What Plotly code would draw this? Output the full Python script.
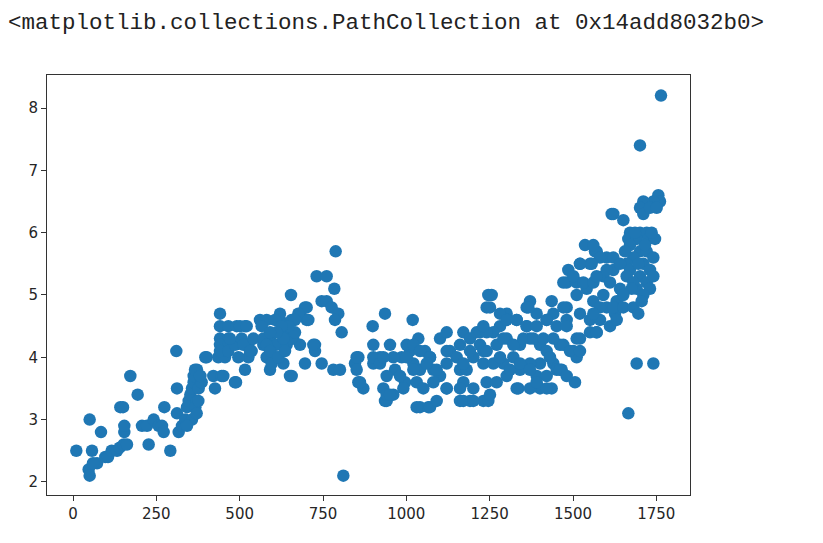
import plotly.graph_objects as go

# Scatter data
x_left = [10, 50, 57, 84, 47, 50, 72, 60, 97, 105, 116, 132, 140, 152, 162, 154, 154, 142, 150, 172, 194,
          207, 222, 242, 257, 267, 272, 227, 274, 292, 310, 312, 312, 317, 327, 337, 342, 347, 352, 357,
          362, 362, 372, 382, 377, 372, 367, 357, 342, 397]
y_left = [2.5, 3.0, 2.5, 2.8, 2.2, 2.1, 2.3, 2.3, 2.4, 2.4, 2.5, 2.5, 2.55, 2.6, 2.6, 2.8, 2.9, 3.2, 3.2, 3.7, 3.4,
          2.9, 2.9, 3.0, 2.9, 2.9, 2.8, 2.6, 3.2, 2.5, 4.1, 3.5, 3.1, 2.8, 2.9, 3.0, 3.2, 3.3, 3.4, 3.5,
          3.6, 3.7, 3.8, 3.7, 3.5, 3.3, 3.2, 3.0, 2.9, 4.0]

x_midleft = [366, 386, 421, 446, 426, 376, 371, 401, 436, 456, 489, 381, 451, 486, 516,
             441, 441, 466, 491, 516, 441, 466, 441, 466, 441, 466, 486, 506, 526, 536, 526, 496, 471, 501,
             511, 531, 561, 581, 591, 571, 581, 591, 611, 631, 621, 641, 656, 661, 681, 681, 701, 701, 631,
             611, 541, 521, 696, 676, 666, 706, 621, 606, 566, 571, 581, 591, 596, 616, 636, 656, 666, 646,
             631, 626, 611, 591, 656, 696, 726, 726, 746, 781, 654, 788, 731, 761, 784, 746, 761, 776, 796,
             786, 806, 801, 811, 651, 721]
y_midleft = [3.8, 3.6, 3.7, 3.7, 3.5, 3.3, 3.1, 4.0, 4.0, 4.0, 3.6, 3.7, 3.7, 3.6, 3.8,
             4.7, 4.5, 4.5, 4.5, 4.5, 4.3, 4.3, 4.2, 4.2, 4.1, 4.1, 4.2, 4.3, 4.2, 4.1, 4.0, 4.0, 4.3, 4.5,
             4.2, 4.1, 4.6, 4.6, 4.3, 4.2, 4.0, 3.8, 4.2, 4.4, 4.6, 4.2, 4.6, 4.3, 4.7, 4.2, 4.8, 4.6, 3.9,
             4.0, 4.3, 4.5, 4.8, 4.7, 4.6, 4.6, 4.7, 4.6, 4.5, 4.3, 4.2, 4.1, 3.9, 4.0, 4.1, 4.3, 4.4, 4.5,
             4.3, 4.5, 4.4, 4.4, 3.7, 3.9, 4.2, 4.1, 3.9, 3.8, 5.0, 5.7, 5.3, 5.3, 5.1, 4.9, 4.9, 4.8, 4.7,
             4.6, 4.4, 3.8, 2.1, 3.7, 4.2]

x_mid = [936, 899, 1019, 901, 951, 856, 846, 856, 871, 901, 921, 931, 936, 961, 966, 986, 996, 1011,
         1036, 1056, 1071, 1041, 1031, 1051, 1041, 1066, 1081, 1101, 1121, 1101, 1121, 1131, 1151, 1161,
         1171, 1191, 1211, 1221, 1201, 1181, 1171, 1161, 1191, 1231, 1241, 1231, 1246, 1241,
         851, 851, 861, 901, 921, 941, 961, 981, 1001, 1021, 1031,
         1021, 931, 1001, 1041, 1071, 1121, 1161, 1191, 1231, 1171, 1121, 1091, 1061, 1021, 941, 941,
         991, 1081, 1121, 1161, 1201, 1171, 1201, 1071, 1091, 951, 1221]
y_mid = [4.7, 4.5, 4.6, 4.2, 4.2, 4.0, 3.9, 3.6, 3.5, 3.9, 4.0, 3.5, 3.3, 3.4, 3.8, 4.0, 3.6, 4.1,
         4.3, 4.1, 4.0, 3.8, 3.6, 3.5, 3.2, 3.2, 3.8, 3.7, 3.5, 4.3, 4.4, 4.1, 4.0, 3.8,
         4.4, 4.3, 4.4, 4.2, 4.0, 3.8, 3.6, 3.3, 3.3, 3.9, 3.6, 3.3, 5.0, 4.8,
         4.0, 3.8, 3.6, 4.0, 3.9, 3.3, 4.0, 3.7, 4.2, 3.9, 3.2,
         4.2, 4.0, 4.0, 4.1, 4.0, 4.1, 4.2, 4.1, 4.1, 3.9, 3.9, 3.8, 3.9, 3.8, 3.7, 3.4,
         3.5, 3.6, 3.5, 3.5, 3.5, 3.3, 3.3, 3.2, 3.3, 3.4, 4.4]

x_right = [1256, 1371, 1361, 1436, 1536, 1566, 1486, 1521, 1551, 1481, 1511, 1511, 1541, 1561, 1481,
           1521, 1551, 1511, 1481, 1441, 1421, 1391, 1361, 1331, 1301, 1281, 1261, 1241, 1271, 1301, 1341,
           1371, 1401, 1421, 1461, 1501, 1511, 1466, 1441, 1401, 1371, 1341, 1321, 1291, 1261, 1271, 1301,
           1391, 1421, 1451, 1506, 1336, 1401, 1436, 1371, 1246,
           1616, 1571, 1601, 1521, 1471, 1501, 1531, 1561, 1591, 1621, 1251, 1366, 1471, 1601, 1631, 1581,
           1611, 1626, 1571, 1521, 1281, 1301, 1331, 1361, 1391, 1421, 1451, 1481, 1551, 1231, 1291, 1321,
           1351, 1381, 1411, 1441, 1471, 1491, 1521, 1241, 1281, 1311, 1341, 1371, 1431, 1461, 1481, 1391,
           1331, 1421, 1251]
y_right = [5.0, 4.9, 4.8, 4.9, 5.8, 5.7, 5.4, 5.5, 5.5, 5.2, 5.2, 5.0, 5.1, 4.9, 4.8,
           4.7, 4.6, 4.3, 4.6, 4.7, 4.6, 4.7, 4.5, 4.6, 4.7, 4.5, 4.4, 4.4, 4.2, 4.3, 4.2,
           4.3, 4.2, 4.1, 4.2, 4.1, 4.0, 3.8, 3.9, 3.9, 3.9, 3.8, 4.0, 3.9, 3.9, 3.6, 3.7,
           3.7, 3.7, 3.8, 3.6, 3.5, 3.5, 3.5, 3.5, 3.3,
           6.3, 5.7, 5.6, 5.5, 5.2, 5.3, 5.2, 5.2, 5.3, 5.4, 4.8, 4.8, 4.8, 4.8, 4.9, 4.6,
           4.5, 4.7, 4.4, 4.3, 4.7, 4.6, 4.6, 4.5, 4.5, 4.6, 4.5, 4.5, 4.4, 4.5, 4.3, 4.2,
           4.3, 4.3, 4.3, 4.3, 4.2, 4.1, 4.1, 4.1, 4.0, 3.8, 3.9, 3.8, 4.0, 3.8, 3.7, 3.6,
           3.5, 3.5, 3.4]

x_far = [1764, 1701, 1756, 1761, 1741, 1711, 1701, 1711, 1731, 1751, 1621, 1651, 1671, 1701, 1721, 1666,
         1691, 1726, 1671, 1701, 1721, 1681, 1711, 1661, 1731, 1701, 1671, 1721, 1691, 1661, 1731, 1561,
         1581, 1556, 1571, 1601, 1621, 1641, 1611, 1641, 1591, 1621, 1581, 1561, 1651, 1681, 1696, 1631,
         1571, 1691, 1741, 1666, 1681, 1711, 1741, 1741, 1746, 1736, 1686, 1656, 1716, 1696, 1676, 1706,
         1651]
y_far = [8.2, 7.4, 6.6, 6.5, 6.5, 6.5, 6.4, 6.3, 6.4, 6.4, 6.3, 6.2, 6.0, 6.0, 6.0, 5.9,
         5.9, 5.9, 5.8, 5.7, 5.7, 5.6, 5.5, 5.5, 5.4, 5.3, 5.4, 5.2, 5.1, 5.3, 5.1, 5.8,
         5.6, 5.5, 5.3, 5.4, 5.6, 5.5, 5.2, 5.1, 5.0, 4.8, 4.8, 4.7, 4.8, 4.8, 4.7, 4.6,
         4.4, 3.9, 3.9, 3.1, 5.2, 5.0, 5.3, 5.6, 5.9, 6.0, 6.0, 5.7, 5.8, 5.5, 5.1, 4.9,
         5.0]

x_ticks = [0, 250, 500, 750, 1000, 1250, 1500, 1750]
y_ticks = [2, 3, 4, 5, 6, 7, 8]

xs = x_left + x_midleft + x_mid + x_right + x_far
ys = y_left + y_midleft + y_mid + y_right + y_far

fig = go.Figure()
fig.add_trace(go.Scatter(
    x=xs, y=ys, mode="markers",
    marker=dict(color="#1f77b4", size=12.5, line=dict(width=0)),
    showlegend=False, hoverinfo="skip",
))

axis_common = dict(
    showgrid=False, zeroline=False, showline=True, mirror=True,
    linecolor="#333333", linewidth=1,
    ticks="outside", ticklen=5, tickwidth=1, tickcolor="#333333",
    tickfont=dict(family="DejaVu Sans", size=15, color="#262626"),
)

fig.update_xaxes(range=[-78, 1851], tickvals=x_ticks, ticktext=[str(v) for v in x_ticks], **axis_common)
fig.update_yaxes(range=[1.79, 8.53], tickvals=y_ticks, ticktext=[str(v) for v in y_ticks], **axis_common)

fig.add_annotation(
    text="&lt;matplotlib.collections.PathCollection at 0x14add8032b0&gt;",
    xref="paper", yref="paper", x=-0.0645, y=1.124,
    xanchor="left", yanchor="middle", showarrow=False,
    font=dict(family="Liberation Mono", size=22.5, color="#222222"),
)

fig.update_layout(
    width=823, height=543,
    margin=dict(l=47, r=133, t=75, b=48),
    paper_bgcolor="white", plot_bgcolor="white",
)

fig.write_html("out.html", config={"displayModeBar": False},
               post_script="document.body.style.margin='0';")
